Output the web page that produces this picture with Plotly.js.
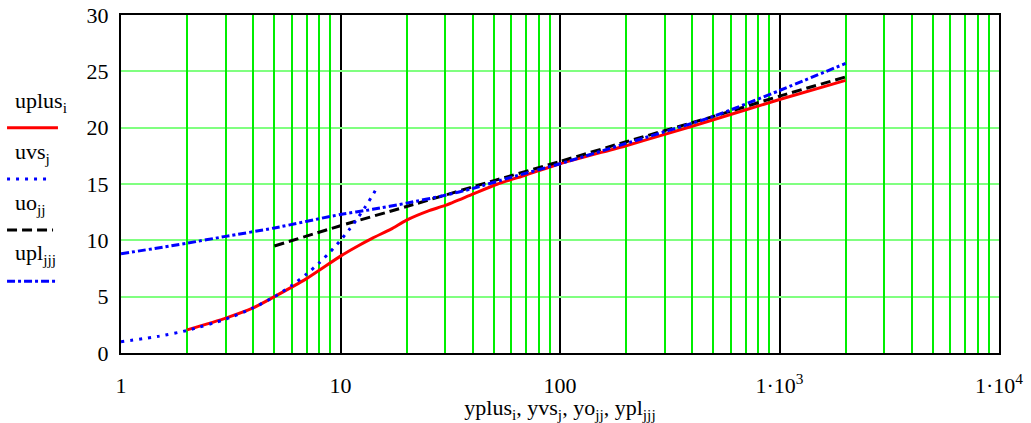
<!DOCTYPE html>
<html>
<head>
<meta charset="utf-8">
<script src="https://cdn.plot.ly/plotly-3.0.1.min.js"></script>
<style>html,body{margin:0;padding:0;background:#fff;}#chart{width:1031px;height:423px;}</style>
</head>
<body>
<div id="chart"></div>
<script>
// ---- data ----
const yplus = [2, 3, 4, 5, 7, 10, 12, 14, 17, 20, 25, 30, 40, 52, 70, 100, 200, 300, 500, 1000, 2000];
const uplus = [2.05, 3.1, 4.0, 5.0, 6.6, 8.6, 9.5, 10.2, 11.0, 11.8, 12.6, 13.1, 14.1, 15.0, 15.8, 16.8, 18.4, 19.4, 20.7, 22.5, 24.2];

const yvs = [1, 1.5, 2, 3, 4, 5, 6, 7, 8, 9, 10, 11, 12, 13, 14, 14.5];
const uvs = [1, 1.5, 2, 3, 4, 5, 6, 7, 8, 9, 10, 11, 12, 13, 14, 14.5];

const yo = [5, 10, 20, 50, 100, 200, 500, 1000, 2000];
const uo = [9.5, 11.3, 13.0, 15.3, 17.0, 18.75, 21.0, 22.8, 24.5];

const ypl = [1, 2, 3, 5, 10, 14, 20, 30, 40, 60, 100, 200, 500, 1000, 2000];
const upl = [8.8, 9.75, 10.35, 11.1, 12.3, 12.75, 13.3, 14.0, 14.6, 15.6, 16.8, 18.6, 21.0, 23.3, 25.7];

const xDecades = [1, 10, 100, 1000, 10000];
const xDecadeText = ["1", "10", "100", "1\u00b710<sup>3</sup>", "1\u00b710<sup>4</sup>"];
const xMinorTicks = [2,3,4,5,6,7,8,9, 20,30,40,50,60,70,80,90, 200,300,400,500,600,700,800,900, 2000,3000,4000,5000,6000,7000,8000,9000];
const yTicks = [0, 5, 10, 15, 20, 25, 30];

const legendNames = ["uplus<sub>i</sub>", "uvs<sub>j</sub>", "uo<sub>jj</sub>", "upl<sub>jjj</sub>"];
const xTitle = "yplus<sub>i</sub>, yvs<sub>j</sub>, yo<sub>jj</sub>, ypl<sub>jjj</sub>";

// ---- styling ----
const FONT = "Liberation Serif, Times New Roman, serif";
const styles = [
  {color: "#ff0000", dash: "solid", axis: "x"},
  {color: "#0000ff", dash: "3px,6px", axis: "x2"},
  {color: "#000000", dash: "10px,5px", axis: "x"},
  {color: "#0000ff", dash: "8px,3px,3px,3px", axis: "x"}
];

const traces = [
  {x: yplus, y: uplus},
  {x: yvs, y: uvs},
  {x: yo, y: uo},
  {x: ypl, y: upl}
].map((d, i) => ({
  x: d.x, y: d.y, type: "scatter", mode: "lines", xaxis: styles[i].axis,
  line: {color: styles[i].color, width: 3, dash: styles[i].dash, shape: "spline", smoothing: 0.6},
  showlegend: false, hoverinfo: "skip"
}));

// legend drawn as text + sample lines at left
const legTextY = [0.7426, 0.5917, 0.4408, 0.2929];
const legLineY = [0.6666, 0.5148, 0.3639, 0.2121];
const legLineX1 = [-0.0718, -0.0809, -0.0774, -0.0729];
const annotations = legendNames.map((t, i) => ({
  text: t, xref: "paper", yref: "paper", x: -0.123, y: legTextY[i],
  xanchor: "left", yanchor: "middle", showarrow: false,
  font: {family: FONT, size: 22, color: "#000"}
}));
const shapes = legendNames.map((t, i) => ({
  type: "line", xref: "paper", yref: "paper",
  x0: -0.1298, x1: legLineX1[i], y0: legLineY[i], y1: legLineY[i],
  line: {color: styles[i].color, width: 3, dash: styles[i].dash}
}));

const layout = {
  width: 1031, height: 423,
  margin: {l: 121, r: 32, t: 15, b: 70},
  paper_bgcolor: "#fff", plot_bgcolor: "#fff",
  font: {family: FONT, size: 22, color: "#000"},
  showlegend: false,
  xaxis: {
    type: "log", range: [0, 4],
    tickmode: "array", tickvals: xDecades, ticktext: xDecadeText,
    showgrid: true, gridcolor: "#000000", gridwidth: 2,
    showline: true, linecolor: "#000", linewidth: 2, mirror: true,
    ticks: "", zeroline: false, ticklabelstandoff: 12,
    tickfont: {family: FONT, size: 22, color: "#000"},
    title: {text: xTitle, font: {family: FONT, size: 22, color: "#000"}, standoff: 4}
  },
  xaxis2: {
    type: "log", range: [0, 4], overlaying: "x",
    tickmode: "array", tickvals: xMinorTicks,
    showgrid: true, gridcolor: "#00ee00", gridwidth: 2,
    showticklabels: false, showline: false, ticks: "", zeroline: false
  },
  yaxis: {
    range: [0, 30], tickmode: "array", tickvals: yTicks,
    showgrid: true, gridcolor: "#80ff80", gridwidth: 2,
    showline: true, linecolor: "#000", linewidth: 2, mirror: true,
    ticks: "", zeroline: false, ticklabelstandoff: 6,
    tickfont: {family: FONT, size: 22, color: "#000"}
  },
  annotations: annotations,
  shapes: shapes
};

Plotly.newPlot("chart", traces, layout, {displayModeBar: false, staticPlot: true});
</script>
</body>
</html>
